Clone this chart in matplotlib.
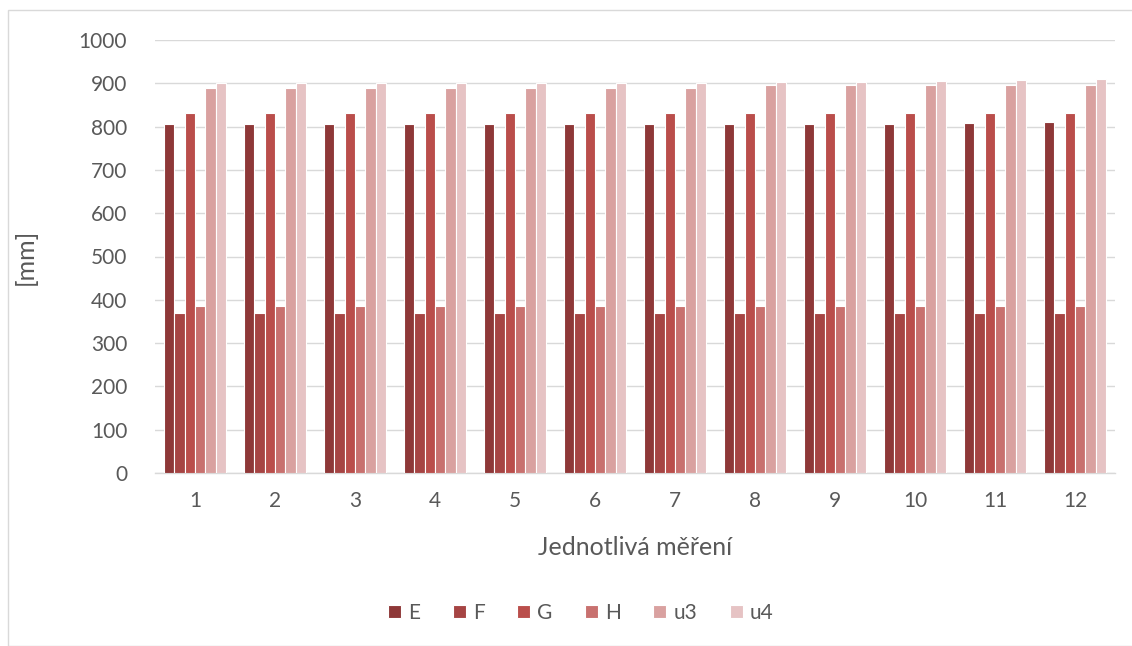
import matplotlib
matplotlib.use("Agg")
import matplotlib.pyplot as plt
import numpy as np
from matplotlib.patches import Rectangle

categories = ["1", "2", "3", "4", "5", "6", "7", "8", "9", "10", "11", "12"]
series_names = ["E", "F", "G", "H", "u3", "u4"]
E = [805, 805, 805, 805, 805, 805, 805, 805, 807, 807, 808, 810]
F = [370, 370, 370, 370, 370, 370, 370, 370, 370, 370, 370, 370]
G = [832, 832, 832, 832, 832, 832, 832, 832, 832, 832, 832, 832]
H = [385, 385, 385, 385, 385, 385, 385, 385, 385, 385, 385, 385]
u3 = [889, 889, 889, 889, 888, 888, 888, 897, 897, 897, 895, 895]
u4 = [901, 901, 901, 901, 901, 901, 901, 902, 904, 905, 907, 909]
series = [E, F, G, H, u3, u4]
colors = ["#8E3838", "#A64443", "#BA4E4B", "#C8716F", "#D9A1A0", "#E6C3C4"]

plt.rcParams['font.family'] = ['Lato', 'DejaVu Sans']
txt = "#595959"

fig = plt.figure(figsize=(11.32, 6.46), dpi=100)
W, Hh = 1132, 646
ax = fig.add_axes([155 / W, 1 - 473 / Hh, 960 / W, (473 - 40) / Hh])

n = len(series)
x = np.arange(len(categories))
group = 0.78
bw = group / n
for i, (s, c, name) in enumerate(zip(series, colors, series_names)):
    ax.bar(x - group / 2 + bw * (i + 0.5), s, width=bw, color=c, edgecolor="white",
           linewidth=0.8, label=name, zorder=3)

ax.set_xlim(-0.5, len(categories) - 0.5)
ax.set_ylim(0, 1000)
ax.set_yticks(np.arange(0, 1001, 100))
ax.set_xticks(x)
ax.set_xticklabels(categories)
ax.grid(axis="y", color="#D9D9D9", linewidth=1.0, zorder=0)
for sp in ["top", "right", "left"]:
    ax.spines[sp].set_visible(False)
ax.spines["bottom"].set_color("#D9D9D9")
ax.spines["bottom"].set_linewidth(1.0)
ax.tick_params(axis="both", length=0, labelsize=15, labelcolor=txt)
ax.tick_params(axis="y", pad=20)
ax.tick_params(axis="x", pad=13)
ax.set_xlabel("Jednotlivá měření", fontsize=18, color=txt, labelpad=18)
ax.set_ylabel("[mm]", fontsize=18, color=txt, labelpad=30)

leg = fig.legend(loc="center", bbox_to_anchor=(581 / W, 1 - 613 / Hh), ncol=6,
                 frameon=False, fontsize=15, handlelength=0.62, handleheight=0.62,
                 columnspacing=1.55, handletextpad=0.35)
for t in leg.get_texts():
    t.set_color(txt)

fig.patches.append(Rectangle((8 / W, 0), 1.2, 1 - 10 / Hh, transform=fig.transFigure,
                             fill=False, edgecolor="#D9D9D9", linewidth=1.0))

fig.savefig("out.png", dpi=100)
